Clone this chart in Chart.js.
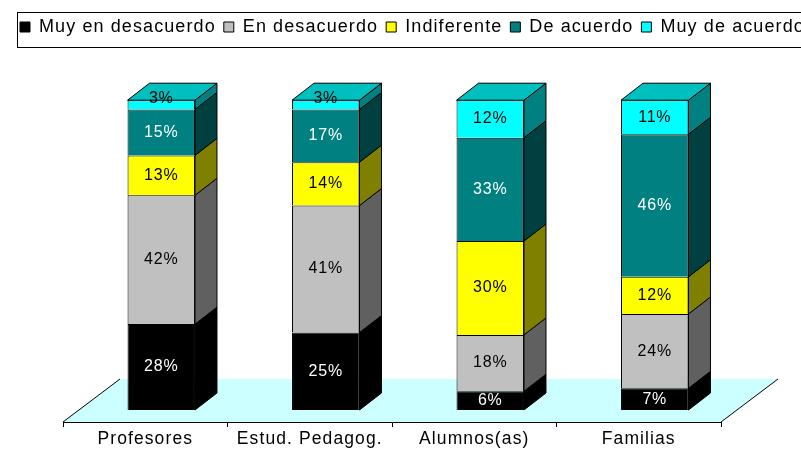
<!DOCTYPE html>
<html>
<head>
<meta charset="utf-8">
<script src="https://cdn.jsdelivr.net/npm/chart.js@4.4.0/dist/chart.umd.min.js"></script>
<style>
  html, body { margin: 0; padding: 0; background: #fff; }
  canvas { display: block; }
</style>
</head>
<body>
<canvas id="chart" width="801" height="452"></canvas>
<script>
const categories = ['Profesores', 'Estud. Pedagog.', 'Alumnos(as)', 'Familias'];
const seriesNames = ['Muy en desacuerdo', 'En desacuerdo', 'Indiferente', 'De acuerdo', 'Muy de acuerdo'];
const muyEnDesacuerdo = [28, 25, 6, 7];
const enDesacuerdo = [42, 41, 18, 24];
const indiferente = [13, 14, 30, 12];
const deAcuerdo = [15, 17, 33, 46];
const muyDeAcuerdo = [3, 3, 12, 11];
const seriesColors = ['#000000', '#c0c0c0', '#ffff00', '#008080', '#00ffff'];
const labelColors = ['#ffffff', '#000000', '#000000', '#ffffff', '#000000'];

const seriesValues = [muyEnDesacuerdo, enDesacuerdo, indiferente, deAcuerdo, muyDeAcuerdo];
// 100% stacked, like the original spreadsheet chart
const totals = categories.map((c, i) => seriesValues.reduce((s, arr) => s + arr[i], 0));

const FONT = '"Liberation Sans", Arial, sans-serif';
const SHIFT_X = 16, SHIFT_Y = 12;   // bars stand a bit behind the floor's front edge
const DEPTH_X = 22, DEPTH_Y = 17;   // bar depth
const FLOOR_X = 57, FLOOR_Y = 43;   // floor depth

function shade(hex, f) {
    const n = parseInt(hex.slice(1), 16);
    const r = Math.round(((n >> 16) & 255) * f);
    const g = Math.round(((n >> 8) & 255) * f);
    const b = Math.round((n & 255) * f);
    return `rgb(${r},${g},${b})`;
}

function poly(ctx, pts, fill) {
    ctx.beginPath();
    ctx.moveTo(pts[0][0], pts[0][1]);
    for (let i = 1; i < pts.length; i++) ctx.lineTo(pts[i][0], pts[i][1]);
    ctx.closePath();
    ctx.fillStyle = fill;
    ctx.fill();
    ctx.stroke();
}

const bars3d = {
    id: 'bars3d',
    beforeUpdate(chart) {
        chart.ctx.letterSpacing = '1.1px';
    },
    beforeDraw(chart) {
        const { ctx, chartArea: a } = chart;
        ctx.letterSpacing = '1.1px';
        ctx.save();
        ctx.beginPath();
        ctx.moveTo(a.left, a.bottom);
        ctx.lineTo(a.left + FLOOR_X, a.bottom - FLOOR_Y);
        ctx.lineTo(a.right + FLOOR_X, a.bottom - FLOOR_Y);
        ctx.lineTo(a.right, a.bottom);
        ctx.closePath();
        ctx.fillStyle = '#ccffff';
        ctx.fill();
        ctx.beginPath();
        ctx.moveTo(a.left, a.bottom);
        ctx.lineTo(a.left + FLOOR_X, a.bottom - FLOOR_Y);
        ctx.moveTo(a.right, a.bottom);
        ctx.lineTo(a.right + FLOOR_X, a.bottom - FLOOR_Y);
        ctx.strokeStyle = '#000';
        ctx.lineWidth = 1;
        ctx.stroke();
        ctx.restore();
    },
    beforeDatasetsDraw(chart) {
        chart.ctx.save();
        chart.ctx.translate(SHIFT_X, -SHIFT_Y);
    },
    afterDatasetsDraw(chart) {
        const ctx = chart.ctx;
        const last = chart.data.datasets.length - 1;
        ctx.strokeStyle = '#000';
        ctx.lineWidth = 1;
        chart.data.datasets.forEach((ds, di) => {
            chart.getDatasetMeta(di).data.forEach(bar => {
                const x1 = bar.x - bar.width / 2, x2 = bar.x + bar.width / 2;
                const yT = Math.min(bar.y, bar.base), yB = Math.max(bar.y, bar.base);
                poly(ctx, [[x2, yT], [x2 + DEPTH_X, yT - DEPTH_Y], [x2 + DEPTH_X, yB - DEPTH_Y], [x2, yB]],
                    shade(seriesColors[di], 0.5));
                if (di === last) {
                    poly(ctx, [[x1, yT], [x1 + DEPTH_X, yT - DEPTH_Y], [x2 + DEPTH_X, yT - DEPTH_Y], [x2, yT]],
                        shade(seriesColors[di], 0.75));
                }
            });
        });
        ctx.font = '16px ' + FONT;
        ctx.letterSpacing = '0.8px';
        ctx.textAlign = 'center';
        ctx.textBaseline = 'middle';
        chart.data.datasets.forEach((ds, di) => {
            chart.getDatasetMeta(di).data.forEach((bar, i) => {
                const tiny = Math.abs(bar.base - bar.y) < 14;
                ctx.fillStyle = labelColors[di];
                ctx.fillText(seriesValues[di][i] + '%', bar.x, (bar.y + bar.base) / 2 - (tiny ? 6 : 0));
            });
        });
        ctx.restore();
    },
    afterDraw(chart) {
        const { ctx, legend } = chart;
        ctx.save();
        ctx.strokeStyle = '#000';
        ctx.lineWidth = 1;
        ctx.strokeRect(17.5, legend.top + 2.5, 820, 35);
        ctx.restore();
    }
};

new Chart(document.getElementById('chart'), {
    type: 'bar',
    data: {
        labels: categories,
        datasets: seriesNames.map((name, k) => ({
            label: name,
            data: seriesValues[k].map((v, i) => v / totals[i] * 100),
            backgroundColor: seriesColors[k],
            borderColor: '#000',
            borderWidth: 1,
            categoryPercentage: 1,
            barPercentage: 0.41
        }))
    },
    options: {
        responsive: false,
        animation: false,
        layout: { padding: { left: 12, right: -20, top: 10, bottom: 0 } },
        plugins: {
            legend: {
                position: 'top',
                align: 'start',
                labels: { boxWidth: 10, boxHeight: 10, padding: 8, color: '#000', font: { size: 18, family: FONT } }
            },
            title: { display: true, text: '', weight: 500, font: { size: 1 }, padding: { top: 0, bottom: 65 } },
            tooltip: { enabled: false }
        },
        scales: {
            x: {
                stacked: true,
                grid: { display: true, drawOnChartArea: false, offset: true, tickLength: 5, color: '#000' },
                border: { display: true, color: '#000' },
                ticks: { color: '#000', font: { size: 17.5, family: FONT }, padding: 2, maxRotation: 0, autoSkip: false },
                afterFit: s => { s.height = 30; }
            },
            y: {
                stacked: true, min: 0, max: 100,
                ticks: { display: false }, grid: { display: false }, border: { display: false },
                afterFit: s => { s.width = 51; }
            },
            y2: {
                position: 'right',
                ticks: { display: false }, grid: { display: false }, border: { display: false },
                afterFit: s => { s.width = 100; }
            }
        }
    },
    plugins: [bars3d]
});
</script>
</body>
</html>
